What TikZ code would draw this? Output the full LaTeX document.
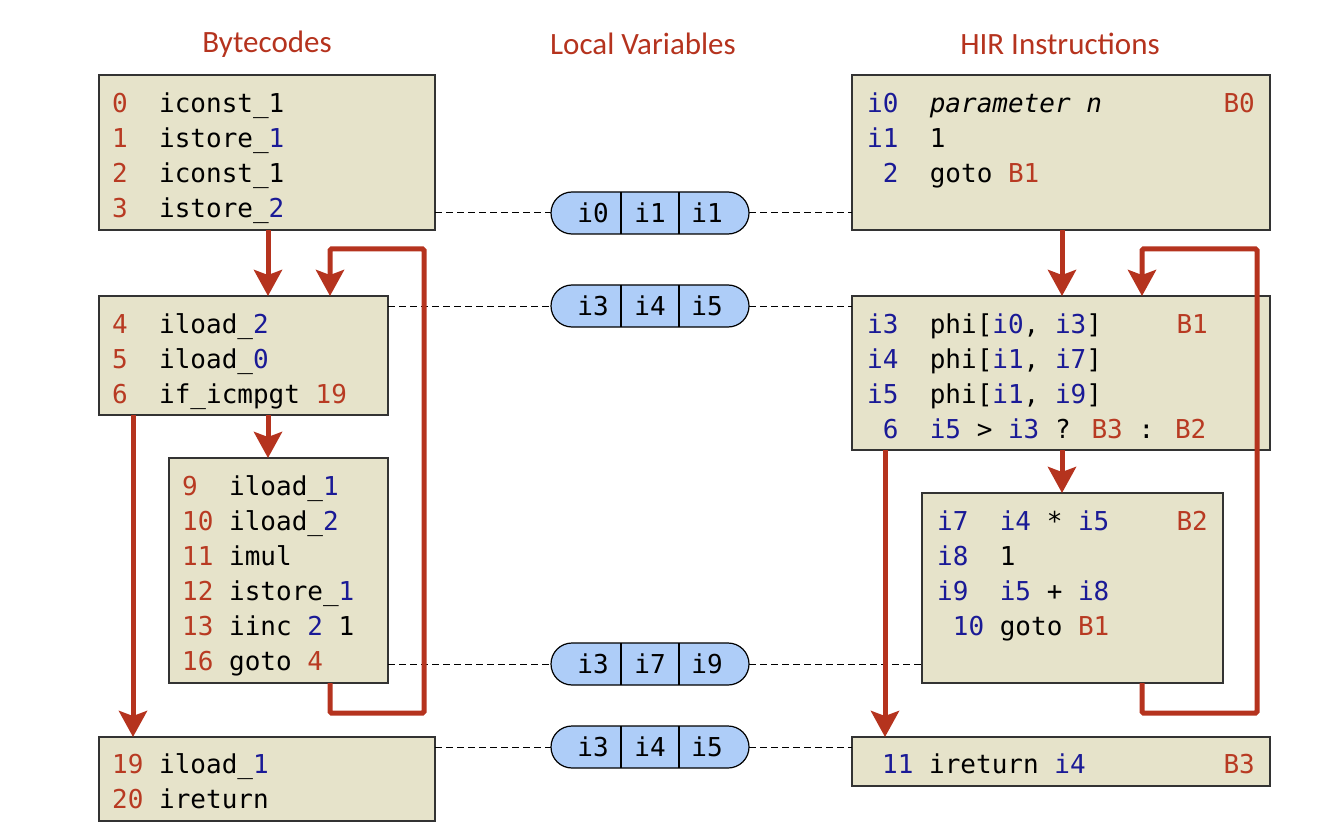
\documentclass[tikz,border=0pt]{standalone}
\usepackage{fontspec}
\usepackage{xcolor, tikz}
\usetikzlibrary{arrows.meta}
\setmainfont{Carlito}
\newfontfamily\codefont{DejaVu Sans Mono}
\definecolor{offred}{HTML}{B83A22}
\definecolor{slotblue}{HTML}{1A1A96}
\definecolor{flowred}{HTML}{B5331E}
\definecolor{blockfill}{HTML}{E6E3CA}
\definecolor{pillfill}{HTML}{AECDF8}
\newcommand{\bn}[1]{\textcolor{offred}{#1}}
\newcommand{\lv}[1]{\textcolor{slotblue}{#1}}
\tikzset{
  head/.style={text=flowred, font=\fontsize{31}{34}\selectfont},
  blk/.style={draw=black!80, fill=blockfill, line width=1.5pt, anchor=north west, outer sep=0pt},
  % base west = baseline of the LAST line
  code/.style={anchor=base west, align=left, inner sep=0pt, font=\codefont\fontsize{26}{35}\selectfont},
  tag/.style={anchor=base east, inner sep=0pt, font=\codefont\fontsize{26}{35}\selectfont},
  pill/.style={draw=black, fill=pillfill, line width=1.2pt, rounded corners=21pt, minimum width=198pt, minimum height=42pt, outer sep=0pt},
  slot/.style={font=\codefont\fontsize{26}{35}\selectfont, inner sep=0pt},
  flow/.style={draw=flowred, line width=5pt, rounded corners=1.5pt, -{Stealth[length=26pt,width=28pt,inset=5pt]}},
  link/.style={draw=black, line width=1pt, dash pattern=on 7pt off 4pt}
}
\begin{document}
\begin{tikzpicture}[x=1pt, y=-1pt]
\useasboundingbox (0,0) rectangle (1334,829);
% column headings
\node[head] (hbc) at (267,44) {Bytecodes};
\node[head] (hlv) at (643,44) {Local Variables};
\node[head] (hir) at (1060,44) {HIR Instructions};

% bytecode blocks
\node[blk, minimum width=336pt, minimum height=155pt] (bc0) at (99,75) {};
\node[blk, minimum width=289pt, minimum height=119pt] (bc1) at (99,296) {};
\node[blk, minimum width=219pt, minimum height=225pt] (bc2) at (169,458) {};
\node[blk, minimum width=336pt, minimum height=84pt] (bc3) at (99,737) {};
\node[code] (bc0txt) at (112,218) {\bn{0}~~iconst\_1\\\bn{1}~~istore\_\lv{1}\\\bn{2}~~iconst\_1\\\bn{3}~~istore\_\lv{2}};
\node[code] (bc1txt) at (112,403) {\bn{4}~~iload\_\lv{2}\\\bn{5}~~iload\_\lv{0}\\\bn{6}~~if\_icmpgt \bn{19}};
\node[code] (bc2txt) at (182,670) {\bn{9}~~iload\_\lv{1}\\\bn{10}~iload\_\lv{2}\\\bn{11}~imul\\\bn{12}~istore\_\lv{1}\\\bn{13}~iinc \lv{2} 1\\\bn{16}~goto \bn{4}};
\node[code] (bc3txt) at (112,808) {\bn{19}~iload\_\lv{1}\\\bn{20}~ireturn};

% HIR blocks
\node[blk, minimum width=418pt, minimum height=155pt] (b0) at (852,75) {};
\node[blk, minimum width=418pt, minimum height=154pt] (b1) at (852,296) {};
\node[blk, minimum width=301pt, minimum height=190pt] (b2) at (922,493) {};
\node[blk, minimum width=418pt, minimum height=49pt] (b3) at (852,737) {};
\node[code] (b0txt) at (867,183) {\lv{i0}~~\textit{parameter n}\\\lv{i1}~~1\\~\lv{2}~~goto \bn{B1}};
\node[tag] (b0tag) at (1255,113) {\bn{B0}};
\node[code] (b1txt) at (867,438) {\lv{i3}~~phi[\lv{i0}, \lv{i3}]\\\lv{i4}~~phi[\lv{i1}, \lv{i7}]\\\lv{i5}~~phi[\lv{i1}, \lv{i9}]\\~\lv{6}~~\lv{i5} > \lv{i3} ? \bn{B3} : \bn{B2}};
\node[tag] (b1tag) at (1208,333) {\bn{B1}};
\node[code] (b2txt) at (937,635) {\lv{i7}~~\lv{i4} * \lv{i5}\\\lv{i8}~~1\\\lv{i9}~~\lv{i5} + \lv{i8}\\~\lv{10}~goto \bn{B1}};
\node[tag] (b2tag) at (1208,530) {\bn{B2}};
\node[code] (b3txt) at (882,773) {\lv{11}~ireturn \lv{i4}};
\node[tag] (b3tag) at (1255,773) {\bn{B3}};

% local variable states
\foreach \nm/\yy/\a/\b/\c in {lv0/213/i0/i1/i1, lv1/306/i3/i4/i5, lv2/664/i3/i7/i9, lv3/747/i3/i4/i5}{
  \node[pill] (\nm) at (650,\yy) {};
  \draw[line width=1.2pt] ([xshift=-29pt]\nm.north) -- ([xshift=-29pt]\nm.south);
  \draw[line width=1.2pt] ([xshift=29pt]\nm.north) -- ([xshift=29pt]\nm.south);
  \node[slot] (\nm a) at ([xshift=-57pt]\nm.center) {\a};
  \node[slot] (\nm b) at (\nm.center) {\b};
  \node[slot] (\nm c) at ([xshift=57pt]\nm.center) {\c};
}

% dashed links from blocks to states
\draw[link] (bc0.east |- lv0.west) -- (lv0.west);
\draw[link] (lv0.east) -- (b0.west |- lv0.east);
\draw[link] (bc1.east |- lv1.west) -- (lv1.west);
\draw[link] (lv1.east) -- (b1.west |- lv1.east);
\draw[link] (bc2.east |- lv2.west) -- (lv2.west);
\draw[link] (lv2.east) -- (b2.west |- lv2.east);
\draw[link] (bc3.east |- lv3.west) -- (lv3.west);
\draw[link] (lv3.east) -- (b3.west |- lv3.east);

% control flow, bytecodes
\coordinate (bcmid) at (268,0);
\coordinate (bcfar) at (133,0);
\coordinate (bcloopl) at (330,0);
\coordinate (bcloopr) at (424,0);
\draw[flow] (bc0.south -| bcmid) -- (bc1.north -| bcmid);
\draw[flow] (bc1.south -| bcmid) -- (bc2.north -| bcmid);
\draw[flow] (bc1.south -| bcfar) -- (bc3.north -| bcfar);
\draw[flow] (bc2.south -| bcloopl) |- (424,713) -- (424,249) -| (bc1.north -| bcloopl);

% control flow, HIR
\coordinate (irmid) at (1062,0);
\coordinate (irfar) at (885,0);
\coordinate (irloopl) at (1142,0);
\coordinate (irloopr) at (1257,0);
\draw[flow] (b0.south -| irmid) -- (b1.north -| irmid);
\draw[flow] (b1.south -| irmid) -- (b2.north -| irmid);
\draw[flow] (b1.south -| irfar) -- (b3.north -| irfar);
\draw[flow] (b2.south -| irloopl) |- (1257,713) -- (1257,249) -| (b1.north -| irloopl);
\end{tikzpicture}
\end{document}
